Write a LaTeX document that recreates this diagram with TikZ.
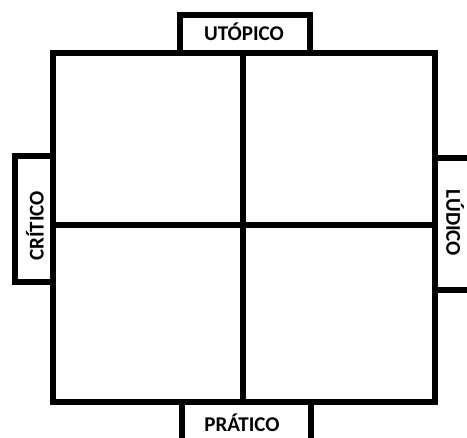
\documentclass[tikz,border=0pt]{standalone}
\usepackage{fontspec}
\setmainfont{Carlito}
\usepackage{tikz}
\usetikzlibrary{positioning}

\tikzset{
  frame/.style={line width=6.5pt, black},
  tag/.style={font=\fontsize{21}{21}\selectfont\bfseries, inner sep=0pt}
}

\begin{document}
\begin{tikzpicture}[x=1pt,y=-1pt]
  \useasboundingbox (0,0) rectangle (467,438);
  % label boxes
  \draw[frame] (180,15) rectangle (310,53);
  \draw[frame] (15,156) rectangle (53,282);
  \draw[frame] (435,158) rectangle (500,290);
  \draw[frame] (182,402) rectangle (311,470);
  % main square
  \draw[frame] (53,53) rectangle (435,402);
  \draw[frame] (243,53) -- (243,402);
  \draw[frame] (53,225) -- (435,225);
  % labels
  \node[tag] (utopico) at (244,32) {UTÓPICO};
  \node[tag, rotate=90] (critico) at (35,226) {CRÍTICO};
  \node[tag, rotate=-90] (ludico) at (455,223) {LÚDICO};
  \node[tag] (pratico) at (242,423) {PRÁTICO};
\end{tikzpicture}
\end{document}
